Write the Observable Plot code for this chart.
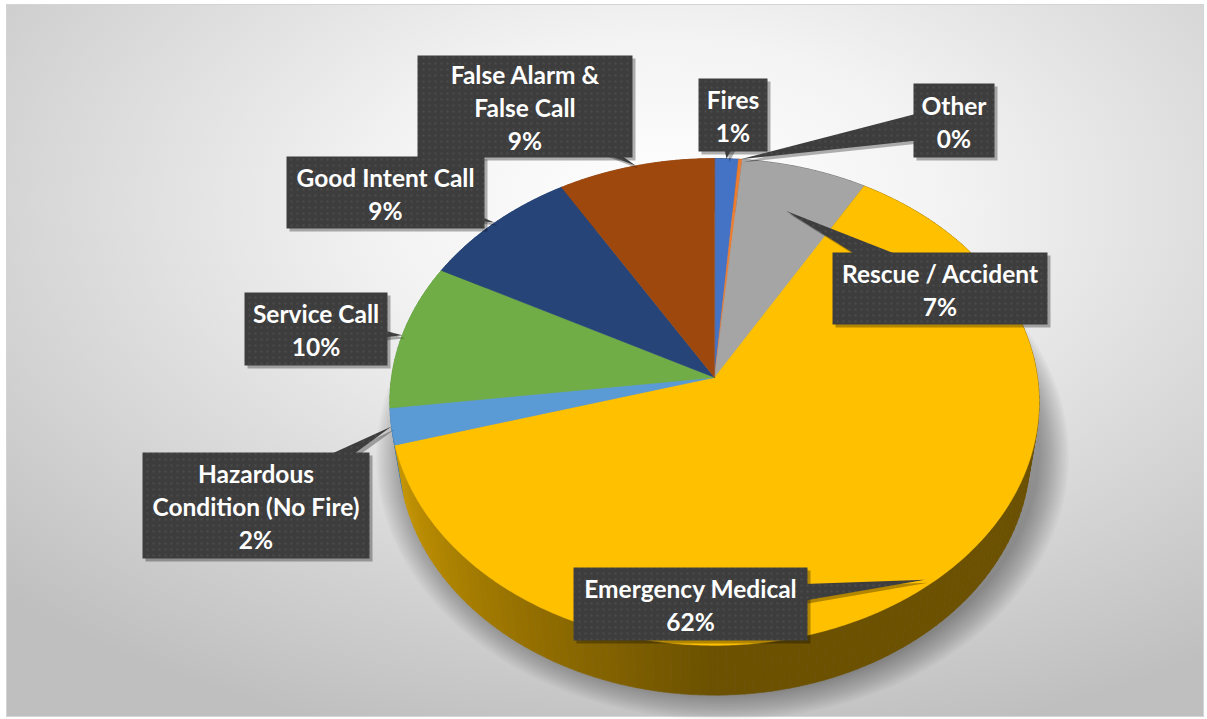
<!DOCTYPE html>
<html><head><meta charset="utf-8">
<script src="https://cdn.jsdelivr.net/npm/d3@7"></script>
<script src="https://cdn.jsdelivr.net/npm/@observablehq/plot@0.6"></script>
<style>body{margin:0;background:#fff;} #chart{width:1207px;height:719px;}</style>
</head><body><div id="chart"></div>
<script>
// ---- data ----
const categories = ["Fires","Other","Rescue / Accident","Emergency Medical","Hazardous Condition (No Fire)","Service Call","Good Intent Call","False Alarm & False Call"];
const labelLines = ["Fires","Other","Rescue / Accident","Emergency Medical","Hazardous\nCondition (No Fire)","Service Call","Good Intent Call","False Alarm &\nFalse Call"];
const values = [1.3, 0.2, 6.9, 62.2, 2.4, 9.7, 8.7, 8.6];
const colors = ["#4472c4","#ed7d31","#a5a5a5","#ffc000","#5b9bd5","#70ad47","#264478","#9e480e"];

// ---- layout (label box centre, size, pointer radius) ----
const labelBoxes = [
  [732.5,114.5,69,73,1],
  [953.5,120,81,74,1],
  [939.5,288,215,72,0.78],
  [690,603.5,234,73,0.98],
  [255.5,505,227,106,1],
  [315.5,328.5,143,73,1],
  [385,192,198,72,1],
  [524.5,106,215,102,1]
];
const CX = 714, CY = 377, F = 2135, D = 6.61, S = 0.746, C = 0.665, H = 0.25;
function proj(r, t, depth) {
  const u = r * Math.sin(t), v = r * Math.cos(t);
  const yc = v * S - depth * C;
  const z = D + v * C + depth * S;
  return [CX + F * u / z, CY - F * yc / z];
}
const arcs = d3.pie().sort(null).value(d => d)(values);
const step = Math.PI / 180;

// pie shadow: stacked translucent layers (soft edge)
const shadowRows = [];
d3.range(16).forEach(j => {
  const sc = 1.09 - j * 0.006;
  for (let t = 0; t < 2 * Math.PI; t += step * 2) {
    const [x, y] = proj(sc, t, H * 0.8);
    shadowRows.push({id: "sh" + j, x: x + 8, y: y + 8});
  }
});

// sides
function sideShade(col, t) {
  const deg = t * 180 / Math.PI;
  let m;
  if (deg <= 180) m = 0.42;
  else if (deg <= 265) m = 0.42 + (deg - 180) / 85 * 0.43;
  else m = 0.85;
  const c = d3.rgb(col);
  return d3.rgb(c.r * m, c.g * m, c.b * m).formatHex();
}
const sideGroups = [];
arcs.forEach((a, i) => {
  const n = Math.max(1, Math.ceil((a.endAngle - a.startAngle) / (step * 1.5)));
  for (let k = 0; k < n; k++) {
    const t0 = a.startAngle + (a.endAngle - a.startAngle) * k / n;
    const t1 = a.startAngle + (a.endAngle - a.startAngle) * (k + 1) / n;
    const fill = sideShade(colors[i], (t0 + t1) / 2);
    const pts = [proj(1, t0, 0), proj(1, t1, 0), proj(1, t1, H), proj(1, t0, H)];
    sideGroups.push({v: Math.cos((t0 + t1) / 2), rows: pts.map(([x, y]) => ({id: `s${i}_${k}`, x, y, fill}))});
  }
});
sideGroups.sort((a, b) => b.v - a.v);
const sideRows = sideGroups.flatMap(g => g.rows);

// top faces
const topRows = [];
arcs.forEach((a, i) => {
  const [ax, ay] = proj(0, 0, 0);
  topRows.push({id: "t" + i, x: ax, y: ay, fill: colors[i]});
  const n = Math.max(2, Math.ceil((a.endAngle - a.startAngle) / (step * 0.5)));
  for (let k = 0; k <= n; k++) {
    const t = a.startAngle + (a.endAngle - a.startAngle) * k / n;
    const [x, y] = proj(1, t, 0);
    topRows.push({id: "t" + i, x, y, fill: colors[i]});
  }
});

// callouts
const calloutRows = [];
const labelData = [];
arcs.forEach((a, i) => {
  const [cx, cy, w, h, r] = labelBoxes[i];
  const mid = (a.startAngle + a.endAngle) / 2;
  const [tx, ty] = proj(r, mid, 0);
  let dx = tx - cx, dy = ty - cy;
  const len = Math.hypot(dx, dy); dx /= len; dy /= len;
  const k = 16;
  [[cx - dy * k, cy + dx * k], [tx, ty], [cx + dy * k, cy - dx * k]]
    .forEach(([x, y]) => calloutRows.push({id: "w" + i, x, y}));
  [[cx - w / 2, cy - h / 2], [cx + w / 2, cy - h / 2], [cx + w / 2, cy + h / 2], [cx - w / 2, cy + h / 2]]
    .forEach(([x, y]) => calloutRows.push({id: "b" + i, x, y}));
  labelData.push({x: cx, y: cy, text: labelLines[i] + "\n" + Math.round(values[i]) + "%"});
});
const calloutShadowRows = calloutRows.map(d => ({...d, x: d.x + 3, y: d.y + 3}));

const svg = Plot.plot({
  width: 1207, height: 719, margin: 0,
  style: "background:#fff;",
  x: {type: "identity", axis: null},
  y: {type: "identity", axis: null},
  color: {type: "identity"},
  marks: [
    Plot.frame({fill: "url(#bg)", stroke: "#d4d4d4", insetLeft: 6, insetTop: 4, insetRight: 4, insetBottom: 3}),
    Plot.line(shadowRows, {x: "x", y: "y", z: "id", fill: "#000000", fillOpacity: 0.022, stroke: null, curve: "linear-closed"}),
    Plot.line(sideRows, {x: "x", y: "y", z: "id", fill: "fill", stroke: "fill", strokeWidth: 0.6, curve: "linear-closed"}),
    Plot.line(topRows, {x: "x", y: "y", z: "id", fill: "fill", stroke: "fill", strokeWidth: 0.4, curve: "linear-closed"}),
    Plot.line(calloutShadowRows, {x: "x", y: "y", z: "id", fill: "#000000", fillOpacity: 0.3, stroke: null, curve: "linear-closed"}),
    Plot.line(calloutRows, {x: "x", y: "y", z: "id", fill: "url(#dots)", stroke: null, curve: "linear-closed"}),
    Plot.text(labelData, {x: "x", y: "y", text: "text", fill: "#fff", fontSize: 24.5, fontWeight: "bold", fontFamily: "Lato", lineHeight: 1.35})
  ]
});

const defs = d3.select(svg).insert("defs", ":first-child");
const bg = defs.append("radialGradient").attr("id", "bg").attr("cx", "55%").attr("cy", "28%").attr("r", "78%");
bg.append("stop").attr("offset", "0").attr("stop-color", "#ffffff");
bg.append("stop").attr("offset", "0.3").attr("stop-color", "#f3f3f3");
bg.append("stop").attr("offset", "1").attr("stop-color", "#bfbfbf");
const pat = defs.append("pattern").attr("id", "dots").attr("width", 6).attr("height", 6).attr("patternUnits", "userSpaceOnUse");
pat.append("rect").attr("width", 6).attr("height", 6).attr("fill", "#3d3d3d");
pat.append("circle").attr("cx", 3).attr("cy", 3).attr("r", 0.8).attr("fill", "#5e5e5e");
document.getElementById("chart").appendChild(svg);
</script>
</body></html>
